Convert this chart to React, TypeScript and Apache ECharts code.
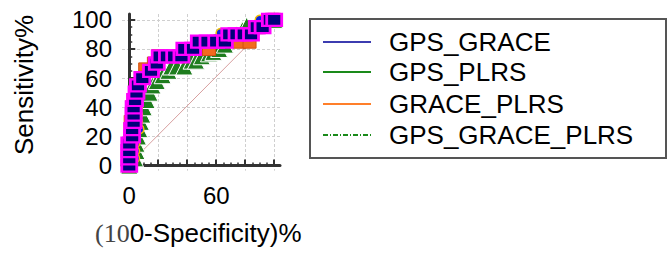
import React, { useEffect, useRef } from "react";
import * as echarts from "echarts";

// ---- data ----
const seriesNames = ["GPS_GRACE", "GPS_PLRS", "GRACE_PLRS", "GPS_GRACE_PLRS"];

const gpsGraceX = [0, 4, 4, 4, 4, 7, 6, 6, 6, 6, 7, 8, 10, 15, 19, 21, 30, 38, 48, 63, 75, 84, 90, 100];
const gpsGraceY = [0, 5, 10, 15, 20, 25, 30, 35, 40, 45, 50, 55, 60, 65, 70, 75, 75, 80, 85, 91, 91, 91, 100, 100];

const gpsPlrsX = [0, 4, 5, 5, 6, 7, 8, 9, 10, 12, 14, 16, 19, 23, 27, 29, 33, 38, 43, 46, 50, 55, 58, 62, 66, 70, 74, 78, 81, 88, 92, 100];
const gpsPlrsY = [0, 5, 10, 15, 20, 25, 30, 35, 40, 45, 50, 55, 58, 62, 65, 68, 68, 68, 72, 72, 75, 77, 78, 80, 83, 87, 90, 93, 96, 96, 98, 100];

const gracePlrsX = [0, 1, 1, 1, 1, 1, 1, 2, 2, 3, 4, 6, 8, 11, 17, 20, 35, 40, 55, 60, 76, 83, 88, 100];
const gracePlrsY = [0, 5, 10, 15, 20, 25, 30, 35, 40, 45, 50, 55, 60, 66, 70, 75, 75, 80, 80, 85, 85, 85, 95, 100];

const gpsGracePlrsX = [0, 0, 0, 0, 2, 2, 3, 3, 3, 4, 5, 6, 9, 15, 19, 21, 26, 31, 36, 38, 44, 48, 54, 60, 66, 69, 74, 79, 84, 88, 92, 97, 100];
const gpsGracePlrsY = [0, 5, 10, 15, 20, 25, 30, 35, 40, 45, 50, 55, 60, 65, 70, 75, 75, 75, 75, 80, 80, 85, 85, 85, 85, 90, 90, 90, 90, 95, 95, 100, 100];

const diagX = [4, 81];
const diagY = [5, 82];

const majorTicks = [0, 20, 40, 60, 80, 100];
const minorTicks = [0, 5, 10, 15, 20, 25, 30, 35, 40, 45, 50, 55, 60, 65, 70, 75, 80, 85, 90, 95, 100];
const xLabels = [0, 60];
const yLabels = [0, 20, 40, 60, 80, 100];

const pairs = (xs: number[], ys: number[]) => xs.map((x, i) => [x, ys[i]]);

const LEGEND_COLORS = ["#3c3cb0", "#1a8a1a", "#ff7f2a", "#1a8a1a"];

export default function App() {
  const ref = useRef<HTMLDivElement>(null);
  useEffect(() => {
    if (!ref.current) return;
    const chart = echarts.init(ref.current, null, { renderer: "svg" });
    const font = "'Liberation Sans', Arial, sans-serif";
    const axisLineStyle = { color: "#333", width: 3 };
    const legendRows = [42, 72, 104, 135];
    const legendGraphics: any[] = [
      {
        type: "rect",
        shape: { x: 310, y: 19, width: 356, height: 139 },
        style: { fill: "#fff", stroke: "#555", lineWidth: 2 },
      },
    ];
    seriesNames.forEach((name, i) => {
      legendGraphics.push({
        type: "line",
        shape: { x1: 323, y1: legendRows[i], x2: 371, y2: legendRows[i] },
        style: {
          stroke: LEGEND_COLORS[i],
          lineWidth: 2,
          lineDash: i === 3 ? [5, 2, 1, 2] : null,
        },
      });
      legendGraphics.push({
        type: "text",
        x: 389,
        y: legendRows[i],
        style: {
          text: name,
          fontFamily: font,
          fontSize: 26,
          fill: "#000",
          verticalAlign: "middle",
          align: "left",
        },
      });
    });

    chart.setOption({
      animation: false,
      grid: { left: 122, top: 14, width: 158, height: 156.7 },
      xAxis: [
        {
          type: "value",
          min: -5,
          max: 104,
          position: "bottom",
          axisLine: { show: true, lineStyle: axisLineStyle },
          axisTick: { show: true, inside: true, length: 3, customValues: minorTicks, lineStyle: { color: "#333", width: 1.5 } },
          axisLabel: { show: false },
          splitLine: { show: false },
        },
        {
          type: "value",
          min: -5,
          max: 104,
          position: "bottom",
          axisLine: { show: false },
          axisTick: { show: true, inside: true, length: 6, customValues: majorTicks, lineStyle: { color: "#333", width: 2 } },
          axisLabel: { show: true, customValues: xLabels, fontSize: 24, fontFamily: font, color: "#000", margin: 13 },
          splitLine: { show: true, lineStyle: { color: "#cfcfcf", type: [3, 2], width: 1 } },
        },
      ],
      yAxis: [
        {
          type: "value",
          min: -3.5,
          max: 104,
          position: "left",
          axisLine: { show: true, lineStyle: axisLineStyle },
          axisTick: { show: true, inside: true, length: 3, customValues: minorTicks, lineStyle: { color: "#333", width: 1.5 } },
          axisLabel: { show: false },
          splitLine: { show: false },
        },
        {
          type: "value",
          min: -3.5,
          max: 104,
          position: "left",
          axisLine: { show: false },
          axisTick: { show: true, inside: true, length: 6, customValues: majorTicks, lineStyle: { color: "#333", width: 2 } },
          axisLabel: { show: true, customValues: yLabels, fontSize: 24, fontFamily: font, color: "#000", margin: 10 },
          splitLine: { show: true, lineStyle: { color: "#cfcfcf", type: [3, 2], width: 1 } },
        },
      ],
      series: [
        {
          name: "Reference",
          type: "line",
          data: pairs(diagX, diagY),
          showSymbol: false,
          silent: true,
          lineStyle: { color: "#d8a0a0", width: 1 },
          z: 1,
        },
        {
          name: seriesNames[1],
          type: "line",
          data: pairs(gpsPlrsX, gpsPlrsY),
          symbol: "triangle",
          symbolSize: 17,
          itemStyle: { color: "#1e7d1e", borderColor: "#ffffff", borderWidth: 1 },
          lineStyle: { color: "#1a8a1a", width: 2 },
          z: 2,
        },
        {
          name: seriesNames[2],
          type: "line",
          data: pairs(gracePlrsX, gracePlrsY),
          symbol: "rect",
          symbolSize: 13,
          itemStyle: { color: "#f26a1e", borderColor: "#d05010", borderWidth: 1 },
          lineStyle: { color: "#ff7f2a", width: 2 },
          z: 3,
        },
        {
          name: seriesNames[0],
          type: "line",
          data: pairs(gpsGraceX, gpsGraceY),
          symbol: "circle",
          symbolSize: 9,
          itemStyle: { color: "#1020e0", borderColor: "#f0c000", borderWidth: 1.5 },
          lineStyle: { color: "#3c3cb0", width: 2 },
          z: 4,
        },
        {
          name: seriesNames[3],
          type: "line",
          data: pairs(gpsGracePlrsX, gpsGracePlrsY),
          symbol: "rect",
          symbolSize: [15, 12],
          itemStyle: { color: "#00007a", borderColor: "#ff00ff", borderWidth: 2.5 },
          lineStyle: { color: "#1a8a1a", width: 2, type: [5, 2, 1, 2] },
          z: 5,
        },
      ],
      graphic: [
        {
          type: "text",
          x: 24,
          y: 85,
          rotation: Math.PI / 2,
          style: {
            text: "Sensitivity%",
            fontFamily: font,
            fontSize: 26,
            fill: "#000",
            align: "center",
            verticalAlign: "middle",
          },
        },
        {
          type: "text",
          x: 95,
          y: 233,
          style: {
            text: "{s|(10}{a|0-Specificity)%}",
            verticalAlign: "middle",
            align: "left",
            rich: {
              s: { fontFamily: "'Liberation Serif', serif", fontSize: 26, fill: "#444" },
              a: { fontFamily: font, fontSize: 26, fill: "#000" },
            },
          },
        },
        ...legendGraphics,
      ],
    });
    return () => chart.dispose();
  }, []);
  return (
    <div
      ref={ref}
      style={{ position: "fixed", left: 0, top: 0, width: 668, height: 253, background: "#fff" }}
    />
  );
}
